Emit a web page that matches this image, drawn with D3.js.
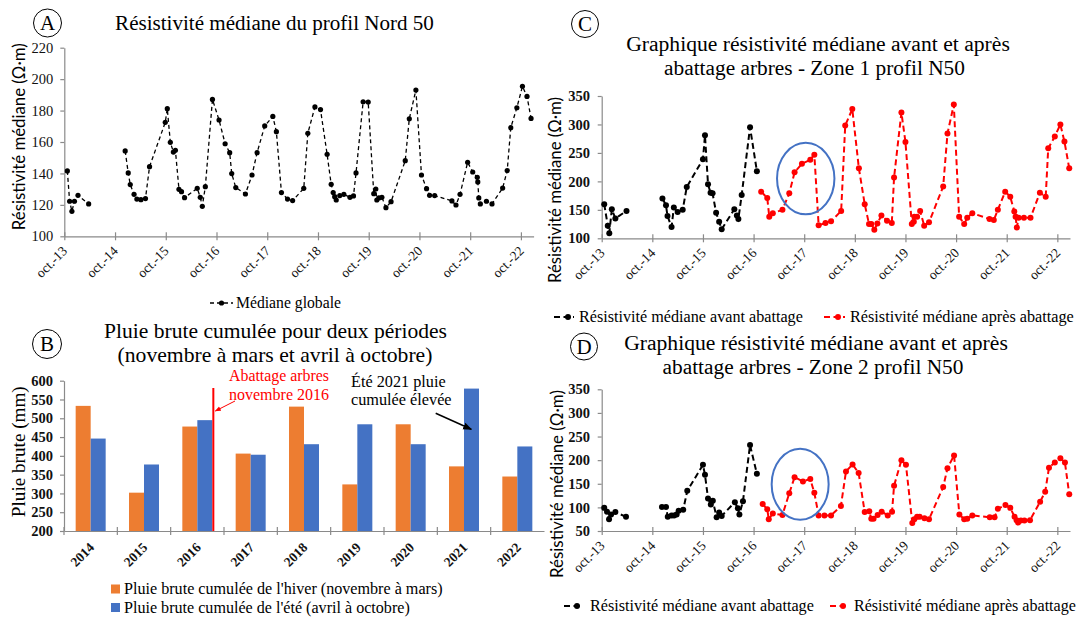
<!DOCTYPE html>
<html><head><meta charset="utf-8">
<script src="https://cdn.jsdelivr.net/npm/d3@7"></script>
<style>body{margin:0;background:#fff}svg{display:block}</style>
</head><body>
<svg id="chart" width="1081" height="619"></svg>
<script>
// ---------- DATA ----------
// Panel A : médiane globale (x in decimal years)
const aYears = [2013.81,2013.855,2013.90,2013.95,2014.02,2014.23,null,2014.95,2015.01,2015.05,2015.125,2015.18,2015.26,2015.35,2015.43,2015.74,2015.78,2015.84,2015.90,2015.94,2016.01,2016.06,2016.12,2016.37,2016.43,2016.47,2016.53,2016.67,2016.80,2016.92,2017.01,2017.05,2017.13,2017.32,2017.45,2017.55,2017.70,2017.86,2017.93,2018.03,2018.15,2018.25,2018.47,2018.55,2018.69,2018.80,2018.93,2019.01,2019.05,2019.08,2019.11,2019.18,2019.26,2019.38,2019.45,2019.50,2019.64,2019.74,2019.85,2019.89,2019.91,2019.95,2020.01,2020.09,2020.19,2020.47,2020.55,2020.68,2020.79,2020.89,2020.95,2021.05,2021.39,2021.47,2021.55,2021.70,2021.80,2021.89,2021.90,2021.92,2021.95,2022.07,2022.18,2022.39,2022.48,2022.55,2022.67,2022.78,2022.87,2022.95];
const aValues = [141.6,122.3,115.9,122.3,126.1,120.6,null,154.3,140.3,132.9,126.7,123.7,123.3,124.0,144.3,172.5,181.2,159.8,153.6,154.7,129.9,128.4,124.6,130.5,124.8,119.1,131.6,187.1,174.0,158.9,153.2,139.9,131.0,126.9,139.0,153.2,170.2,176.3,166.6,127.8,123.7,122.7,130.5,165.5,182.3,180.6,152.2,133.1,127.8,125.2,123.1,125.9,126.7,124.8,125.7,140.3,185.6,185.4,127.1,130.1,123.1,124.4,124.8,118.2,122.0,148.1,174.8,193.1,139.0,130.3,126.1,125.9,122.5,119.9,126.7,147.1,140.9,137.5,134.6,124.4,120.6,122.3,120.6,130.7,141.8,169.1,181.8,195.4,189.0,175.0];

// Panel C : zone 1
const cBeforeYears = [2013.80,2013.87,2013.90,2013.95,2014.02,2014.24,null,2014.95,2015.02,2015.05,2015.13,2015.175,2015.25,2015.35,2015.43,2015.75,2015.79,2015.85,2015.90,2015.94,2016.01,2016.07,2016.12,2016.37,2016.42,2016.45,2016.515,2016.68,2016.815];
const cBeforeValues = [160,122,109,151,135,148,null,170,158,139,120,154,146,150,190,239,281,195,180,179,145,129,116,151,140,134,176,295,218];
const cAfterYears = [2016.90,2017.02,2017.06,2017.13,2017.32,2017.455,2017.56,2017.705,2017.87,2017.95,2018.035,2018.17,2018.28,2018.48,2018.56,2018.70,2018.83,2018.945,2019.03,2019.075,2019.135,2019.195,2019.275,2019.385,2019.48,2019.525,2019.67,2019.75,2019.875,2019.915,2019.925,2019.98,2020.04,2020.12,2020.215,2020.495,2020.58,2020.705,2020.81,2020.91,2020.97,2021.07,2021.41,2021.495,2021.575,2021.72,2021.82,2021.90,2021.925,2021.95,2021.985,2022.09,2022.22,2022.405,2022.52,2022.57,2022.70,2022.81,2022.89,2022.985];
const cAfterValues = [182,171,138,144,150,179,216,231,238,247,123,127,130,148,298,327,223,160,125,125,115,126,140,131,127,207,321,269,125,129,138,138,148,122,128,191,284,335,138,125,136,144,134,132,150,182,173,147,138,119,136,136,136,180,173,258,279,300,270,223];

// Panel D : zone 2
const dBeforeYears = [2013.80,2013.855,2013.895,2013.935,2014.02,2014.23,null,2014.94,2015.02,2015.055,2015.13,2015.18,2015.23,2015.27,2015.36,2015.44,2015.75,2015.79,2015.85,2015.905,2015.945,2016.02,2016.07,2016.12,2016.38,2016.44,2016.47,2016.54,2016.68,2016.815];
const dBeforeValues = [99,91,75,85,90,80,null,101,101,80,83,83,85,93,95,135,190,169,119,106,114,79,89,82,111,98,85,113,232,171];
const dAfterYears = [2016.93,2017.02,2017.05,2017.13,2017.32,2017.455,2017.56,2017.725,2017.87,2017.95,2018.035,2018.15,2018.28,2018.475,2018.575,2018.705,2018.825,2018.945,2019.035,2019.075,2019.12,2019.20,2019.28,2019.40,2019.485,2019.525,2019.67,2019.76,2019.885,2019.925,2019.98,2020.03,2020.125,2020.215,2020.495,2020.58,2020.71,2020.815,2020.91,2020.97,2021.07,2021.415,2021.51,2021.575,2021.725,2021.82,2021.905,2021.945,2021.975,2022.03,2022.10,2022.21,2022.41,2022.51,2022.585,2022.70,2022.81,2022.90,2022.985];
const dAfterValues = [107,96,75,87,84,130,164,155,160,131,83,83,83,103,176,191,173,90,92,76,76,84,91,83,91,146,200,190,67,75,80,80,77,75,143,183,210,85,75,76,83,79,79,97,105,99,80,73,68,72,72,73,112,133,184,195,204,195,128];

// Panel B : pluie brute cumulée
const rainYears = ['2014','2015','2016','2017','2018','2019','2020','2021','2022'];
const winterRain = [533,302,478,406,531,324,484,372,345];
const summerRain = [446,377,495,403,431,484,431,579,425];

// Ticks
const octTicks = [2013.75,2014.75,2015.75,2016.75,2017.75,2018.75,2019.75,2020.75,2021.75,2022.75];
const octLabels = ['oct.-13','oct.-14','oct.-15','oct.-16','oct.-17','oct.-18','oct.-19','oct.-20','oct.-21','oct.-22'];
const aYTicks = [100,120,140,160,180,200,220];
const cYTicks = [100,150,200,250,300,350];
const dYTicks = [50,100,150,200,250,300,350];
const bYTicks = [200,250,300,350,400,450,500,550,600];
const timeDomain = [2013.75, 2023.0];

// Annotation anchors (data units)
const cCircle = {year: 2017.78, value: 205};
const dCircle = {year: 2017.67, value: 149};

// ---------- DRAW ----------
const svg = d3.select('#chart');
const SERIF = "'Liberation Serif','Times New Roman',serif";
const SANS = "Lato,'Open Sans',sans-serif";
const AXIS = '#8a8a8a';
const ORANGE = '#ED7D31', BLUE = '#4472C4', RED = '#FF0000';

const defs = svg.append('defs');
function marker(id, color){
  defs.append('marker').attr('id',id).attr('viewBox','0 0 10 10').attr('refX',9).attr('refY',5)
    .attr('markerWidth',6).attr('markerHeight',6).attr('orient','auto')
    .append('path').attr('d','M0,1L10,5L0,9Z').attr('fill',color);
}
marker('arrRed', RED); marker('arrBlack', '#000');

function fit(t, w){
  const L = t.node().getComputedTextLength();
  if (L > 0) t.attr('font-size', parseFloat(t.attr('font-size')) * w / L);
  return t;
}
function txt(x, y, s, o = {}){
  const t = svg.append('text').attr('x', x).attr('y', y).text(s)
    .attr('font-family', o.family || SERIF).attr('font-size', o.size || 16)
    .attr('font-weight', o.weight || 'normal').attr('fill', o.fill || '#000')
    .attr('text-anchor', o.anchor || 'middle');
  if (o.baseline) t.attr('dominant-baseline', o.baseline);
  if (o.width) fit(t, o.width);
  if (o.rotate) t.attr('transform', `rotate(${o.rotate},${x},${y})`);
  return t;
}
function circled(cx, cy, r, letter){
  svg.append('circle').attr('cx',cx).attr('cy',cy).attr('r',r).attr('fill','none').attr('stroke','#000').attr('stroke-width',1);
  txt(cx, cy + 7, letter, {size: 21});
}
function styleAxis(g, size, weight){
  g.attr('font-family', SERIF).attr('font-size', size).attr('font-weight', weight);
  g.select('.domain').attr('stroke', AXIS).attr('stroke-width', 1.2);
  g.selectAll('.tick line').attr('stroke', AXIS).attr('stroke-width', 1.2);
  g.selectAll('.tick text').attr('fill', '#111');
}

function timePanel(cfg){
  const x = d3.scaleLinear().domain(timeDomain).range([cfg.x0, cfg.x1]);
  const y = d3.scaleLinear().domain([cfg.yTicks[0], cfg.yTicks[cfg.yTicks.length-1]]).range([cfg.yB, cfg.yT]);
  const gy = svg.append('g').attr('transform', `translate(${cfg.x0},0)`)
    .call(d3.axisLeft(y).tickValues(cfg.yTicks).tickSize(4).tickSizeOuter(0).tickPadding(cfg.pad));
  styleAxis(gy, 14.5, cfg.yWeight);
  const gx = svg.append('g').attr('transform', `translate(0,${cfg.yB})`)
    .call(d3.axisBottom(x).tickValues(octTicks).tickFormat((d,i) => octLabels[i]).tickSizeOuter(0));
  styleAxis(gx, 13.5, 'normal');
  gx.selectAll('.tick line').attr('y1', -4).attr('y2', 4);
  gx.selectAll('.tick text').attr('x', 0).attr('y', 0).attr('dy', '0.35em')
    .attr('text-anchor', 'end').attr('transform', 'translate(0,12) rotate(-45)');
  return {x, y};
}

function series(sc, years, vals, color, dash, w, r){
  const pts = years.map((yr, i) => ({x: yr, v: vals[i]}));
  const line = d3.line().defined(d => d.v != null && d.x != null).x(d => sc.x(d.x)).y(d => sc.y(d.v));
  svg.append('path').datum(pts).attr('d', line).attr('fill', 'none')
    .attr('stroke', color).attr('stroke-width', w).attr('stroke-dasharray', dash);
  svg.append('g').selectAll('circle').data(pts.filter(d => d.v != null)).join('circle')
    .attr('cx', d => sc.x(d.x)).attr('cy', d => sc.y(d.v)).attr('r', r).attr('fill', color);
}
function legendSym(x0, x1, dotX, y, color, dash, w, r){
  svg.append('line').attr('x1', x0).attr('x2', x1).attr('y1', y).attr('y2', y)
    .attr('stroke', color).attr('stroke-width', w).attr('stroke-dasharray', dash);
  svg.append('circle').attr('cx', dotX).attr('cy', y).attr('r', r).attr('fill', color);
}

// ===== Panel A =====
circled(47.5, 23, 14, 'A');
txt(274.5, 30, 'Résistivité médiane du profil Nord 50', {size: 20, width: 319});
const A = timePanel({x0: 64.3, x1: 533.6, yB: 236.3, yT: 47.7, yTicks: aYTicks, pad: 7, yWeight: 'normal'});
txt(19, 136.7, 'Résistivité médiane (Ω·m)', {family: SANS, size: 17, width: 187, rotate: -90, baseline: 'central'});
series(A, aYears, aValues, '#000', '4,3', 1.3, 2.6);
legendSym(210, 233, 221.5, 303, '#000', '4,3', 1.3, 2.6);
txt(236, 307.5, 'Médiane globale', {anchor: 'start', size: 14, width: 105});

// ===== Panel B =====
circled(47, 344, 14.5, 'B');
txt(275.5, 338, 'Pluie brute cumulée pour deux périodes', {size: 20, width: 343});
txt(275, 361.5, '(novembre à mars et avril à octobre)', {size: 20, width: 315});
const xb = d3.scaleBand().domain(rainYears).range([64, 544]).padding(0);
const yb = d3.scaleLinear().domain([200, 600]).range([531, 380.7]);
const xs = d3.scaleBand().domain(['hiver', 'ete']).range([0, 30]);
const off = (xb.bandwidth() - 30) / 2;
const barG = svg.append('g');
rainYears.forEach((yr, i) => {
  [['hiver', winterRain[i], ORANGE], ['ete', summerRain[i], BLUE]].forEach(([k, v, c]) => {
    barG.append('rect').attr('x', xb(yr) + off + xs(k)).attr('width', xs.bandwidth())
      .attr('y', yb(v)).attr('height', yb(200) - yb(v)).attr('fill', c);
  });
});
const gyb = svg.append('g').attr('transform', 'translate(64,0)')
  .call(d3.axisLeft(yb).tickValues(bYTicks).tickSize(4).tickSizeOuter(0).tickPadding(7));
styleAxis(gyb, 14.5, 'bold');
const gxb = svg.append('g').attr('transform', 'translate(0,531)')
  .call(d3.axisBottom(xb).tickSize(0).tickSizeOuter(0));
styleAxis(gxb, 13.5, 'bold');
gxb.selectAll('.tick text').attr('x', 0).attr('y', 0).attr('dy', '0.35em')
  .attr('text-anchor', 'end').attr('transform', 'translate(1,14) rotate(-45)');
svg.append('g').selectAll('line').data(rainYears).join('line')
  .attr('x1', d => xb(d)).attr('x2', d => xb(d)).attr('y1', 527).attr('y2', 535)
  .attr('stroke', AXIS).attr('stroke-width', 1.2);
txt(19, 451.7, 'Pluie brute (mm)', {size: 18, width: 131, rotate: -90, baseline: 'central'});
// abattage line
const cutX = xb('2016') + xb.bandwidth() / 2 + 16;
svg.append('line').attr('x1', cutX).attr('x2', cutX).attr('y1', 388).attr('y2', 531).attr('stroke', RED).attr('stroke-width', 2);
txt(279, 381, 'Abattage arbres', {size: 16, width: 100, fill: RED});
txt(279, 399.5, 'novembre 2016', {size: 16, width: 100, fill: RED});
svg.append('line').attr('x1', 235).attr('y1', 401).attr('x2', cutX + 2).attr('y2', 411)
  .attr('stroke', RED).attr('stroke-width', 1).attr('marker-end', 'url(#arrRed)');
txt(398.3, 386.7, 'Été 2021 pluie', {size: 16, width: 94.7});
txt(401.3, 405, 'cumulée élevée', {size: 16, width: 100.7});
svg.append('line').attr('x1', 435.7).attr('y1', 413.3).attr('x2', 471.3).attr('y2', 429.3)
  .attr('stroke', '#000').attr('stroke-width', 1.5).attr('marker-end', 'url(#arrBlack)');
// legend B
svg.append('rect').attr('x', 111).attr('y', 584.5).attr('width', 9).attr('height', 9).attr('fill', ORANGE);
txt(124, 594, "Pluie brute cumulée de l'hiver (novembre à mars)", {anchor: 'start', size: 14, width: 319});
svg.append('rect').attr('x', 111).attr('y', 603).attr('width', 9).attr('height', 9).attr('fill', BLUE);
txt(124, 612.5, "Pluie brute cumulée de l'été (avril à octobre)", {anchor: 'start', size: 14, width: 286});

// ===== Panel C =====
circled(585, 24, 13.5, 'C');
txt(818, 51, 'Graphique résistivité médiane avant et après', {size: 20, width: 384});
txt(814.5, 75, 'abattage arbres - Zone 1 profil N50', {size: 20, width: 301});
const C = timePanel({x0: 601.7, x1: 1070, yB: 238.3, yT: 96, yTicks: cYTicks, pad: 7.7, yWeight: 'bold'});
txt(555, 190, 'Résistivité médiane (Ω·m)', {family: SANS, size: 17, width: 186, rotate: -90, baseline: 'central'});
series(C, cBeforeYears, cBeforeValues, '#000', '6,3.5', 2, 3);
series(C, cAfterYears, cAfterValues, RED, '6,3.5', 2, 3);
svg.append('ellipse').attr('cx', C.x(cCircle.year)).attr('cy', C.y(cCircle.value)).attr('rx', 28.7).attr('ry', 35.7)
  .attr('fill', 'none').attr('stroke', BLUE).attr('stroke-width', 2);
legendSym(554, 574, 568, 317, '#000', '6,3.5', 2, 3);
txt(579, 321.5, 'Résistivité médiane avant abattage', {anchor: 'start', size: 14, width: 224});
legendSym(824, 845, 838, 317, RED, '6,3.5', 2, 3);
txt(850, 321.5, 'Résistivité médiane après abattage', {anchor: 'start', size: 14, width: 224});

// ===== Panel D =====
circled(584, 346.5, 13.5, 'D');
txt(816, 350, 'Graphique résistivité médiane avant et après', {size: 20, width: 384});
txt(813, 374, 'abattage arbres - Zone 2 profil N50', {size: 20, width: 301});
const D = timePanel({x0: 601.7, x1: 1070, yB: 531, yT: 389.3, yTicks: dYTicks, pad: 7.7, yWeight: 'bold'});
txt(556, 484, 'Résistivité médiane (Ω·m)', {family: SANS, size: 17, width: 188, rotate: -90, baseline: 'central'});
series(D, dBeforeYears, dBeforeValues, '#000', '6,3.5', 2, 3);
series(D, dAfterYears, dAfterValues, RED, '6,3.5', 2, 3);
svg.append('ellipse').attr('cx', D.x(dCircle.year)).attr('cy', D.y(dCircle.value)).attr('rx', 28.5).attr('ry', 35.5)
  .attr('fill', 'none').attr('stroke', BLUE).attr('stroke-width', 2);
legendSym(564, 583, 577, 606, '#000', '6,3.5', 2, 3);
txt(590, 610.5, 'Résistivité médiane avant abattage', {anchor: 'start', size: 14, width: 224});
legendSym(830, 849, 843, 606, RED, '6,3.5', 2, 3);
txt(854, 610.5, 'Résistivité médiane après abattage', {anchor: 'start', size: 14, width: 222});
</script>
</body></html>
